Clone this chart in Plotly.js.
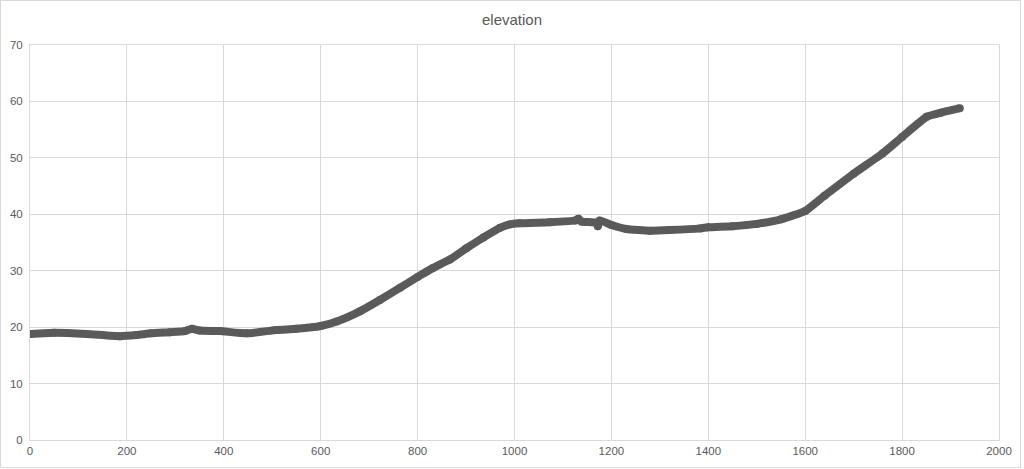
<!DOCTYPE html>
<html>
<head>
<meta charset="utf-8">
<script src="https://cdn.plot.ly/plotly-3.0.1.min.js"></script>
<style>
  html, body { margin: 0; padding: 0; background: #ffffff; }
  #wrap { position: relative; width: 1024px; height: 469px; }
  #chart { width: 1024px; height: 469px; }
  #frame { position: absolute; left: 0; top: 0; width: 1019px; height: 466px; border: 1px solid #d9d9d9; pointer-events: none; }
</style>
</head>
<body>
<div id="wrap">
  <div id="chart"></div>
  <div id="frame"></div>
</div>
<script>
const chartTitle = "elevation";
const distance = [0, 50, 117, 186, 220, 250, 289, 320, 334, 350, 392, 447, 509, 550, 600, 633, 681, 722, 764, 800, 832, 867, 901, 936, 970, 990, 1010, 1073, 1125, 1132, 1138, 1168, 1172, 1176, 1200, 1231, 1280, 1320, 1383, 1400, 1450, 1500, 1550, 1600, 1640, 1700, 1760, 1800, 1851, 1880, 1919];
const elevation = [18.8, 19.0, 18.8, 18.4, 18.6, 18.9, 19.1, 19.3, 19.7, 19.4, 19.3, 18.9, 19.5, 19.7, 20.2, 21.0, 22.8, 24.8, 27.0, 28.9, 30.5, 32.0, 34.0, 35.9, 37.6, 38.2, 38.4, 38.6, 38.9, 39.2, 38.7, 38.5, 37.9, 38.9, 38.1, 37.4, 37.1, 37.2, 37.5, 37.7, 37.9, 38.3, 39.1, 40.6, 43.3, 47.2, 50.8, 53.7, 57.3, 58.0, 58.8];
const xTicks = [0, 200, 400, 600, 800, 1000, 1200, 1400, 1600, 1800, 2000];
const yTicks = [0, 10, 20, 30, 40, 50, 60, 70];

const lineColor = "#5a5a5a";
const gridColor = "#d9d9d9";
const textColor = "#595959";
const fontFamily = "'Liberation Sans', Arial, sans-serif";

const trace = {
  x: distance,
  y: elevation,
  type: "scatter",
  mode: "lines+markers",
  line: { color: lineColor, width: 8, shape: "spline", smoothing: 0.4 },
  marker: { color: lineColor, size: 8 },
  hoverinfo: "x+y",
  showlegend: false
};

const layout = {
  width: 1024,
  height: 469,
  margin: { l: 30, r: 25, t: 45, b: 29, pad: 0 },
  paper_bgcolor: "#ffffff",
  plot_bgcolor: "#ffffff",
  title: {
    text: chartTitle,
    font: { family: fontFamily, size: 15, color: textColor },
    x: 0.5, xref: "container", xanchor: "center",
    y: 1 - 20 / 469, yref: "container", yanchor: "middle"
  },
  xaxis: {
    range: [0, 2000],
    tickvals: xTicks,
    ticktext: xTicks.map(String),
    showgrid: true, gridcolor: gridColor, gridwidth: 1,
    zeroline: false,
    showline: true, linecolor: gridColor, linewidth: 1, mirror: true,
    ticks: "",
    tickfont: { family: fontFamily, size: 11.5, color: textColor },
    fixedrange: true
  },
  yaxis: {
    range: [0, 70],
    tickvals: yTicks,
    ticktext: yTicks.map(String),
    showgrid: true, gridcolor: gridColor, gridwidth: 1,
    zeroline: false,
    showline: true, linecolor: gridColor, linewidth: 1, mirror: true,
    ticks: "",
    ticklabelstandoff: 4,
    tickfont: { family: fontFamily, size: 11.5, color: textColor },
    fixedrange: true
  }
};

Plotly.newPlot("chart", [trace], layout, { displayModeBar: false, staticPlot: true });
</script>
</body>
</html>
